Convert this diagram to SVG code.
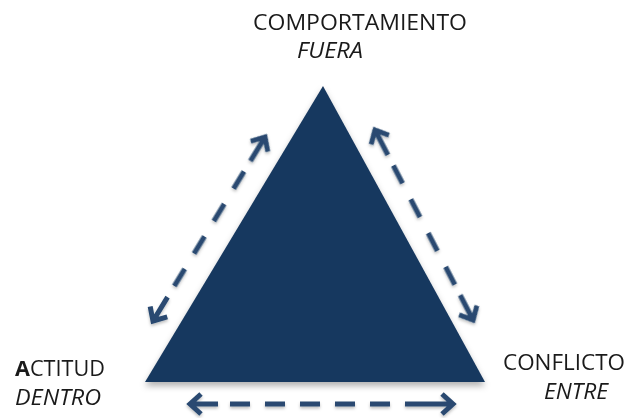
<svg xmlns="http://www.w3.org/2000/svg" width="626" height="418" viewBox="0 0 626 418">
  <defs>
    <filter id="sh" x="-10%" y="-10%" width="120%" height="130%">
      <feDropShadow dx="0" dy="4" stdDeviation="3" flood-color="#000" flood-opacity="0.3"/>
    </filter>
    <filter id="ash" x="-20%" y="-20%" width="140%" height="140%">
      <feDropShadow dx="0" dy="2" stdDeviation="1.5" flood-color="#000" flood-opacity="0.25"/>
    </filter>
    <path id="chev" d="M 11 -10 L 0 0 L 11 10 M 0 0 L 28 0"/>
  </defs>
  <style>
    .lbl { font-family: "Open Sans", "Liberation Sans", sans-serif; font-size: 21px; fill: #1a1a1a; }
    .it { font-style: italic; }
    .arr { fill: none; stroke: #294a71; stroke-width: 5; stroke-linejoin: miter; }
    .dash { stroke-dasharray: 20 18; }
  </style>

  <g id="triangle">
    <polygon points="323,86 145,382 485,382" fill="#17375e" filter="url(#sh)"/>
  </g>

  <g id="connectors" filter="url(#ash)">
    <g id="arrow-left" transform="translate(153,321) rotate(-58.67)">
      <use href="#chev" class="arr"/>
      <use href="#chev" class="arr" transform="translate(215.4,0) scale(-1,1)"/>
      <line x1="41" y1="0" x2="176" y2="0" class="arr dash"/>
    </g>
    <g id="arrow-right" transform="translate(375,130) rotate(62.7)">
      <use href="#chev" class="arr"/>
      <use href="#chev" class="arr" transform="translate(213.8,0) scale(-1,1)"/>
      <line x1="40" y1="0" x2="175" y2="0" class="arr dash"/>
    </g>
    <g id="arrow-bottom" transform="translate(190,404)">
      <use href="#chev" class="arr"/>
      <use href="#chev" class="arr" transform="translate(263,0) scale(-1,1)"/>
      <line x1="40" y1="0" x2="235" y2="0" class="arr" stroke-dasharray="20 15"/>
    </g>
  </g>

  <g id="node-comportamiento">
    <text class="lbl" x="253" y="30" textLength="214" lengthAdjust="spacingAndGlyphs">COMPORTAMIENTO</text>
    <text class="lbl it" x="297" y="58" textLength="66" lengthAdjust="spacingAndGlyphs">FUERA</text>
  </g>
  <g id="node-actitud">
    <text class="lbl" x="15" y="376" textLength="90" lengthAdjust="spacingAndGlyphs"><tspan font-weight="bold">A</tspan>CTITUD</text>
    <text class="lbl it" x="15" y="405" textLength="86" lengthAdjust="spacingAndGlyphs">DENTRO</text>
  </g>
  <g id="node-conflicto">
    <text class="lbl" x="503" y="370" textLength="122" lengthAdjust="spacingAndGlyphs">CONFLICTO</text>
    <text class="lbl it" x="544" y="399" textLength="64" lengthAdjust="spacingAndGlyphs">ENTRE</text>
  </g>
</svg>
